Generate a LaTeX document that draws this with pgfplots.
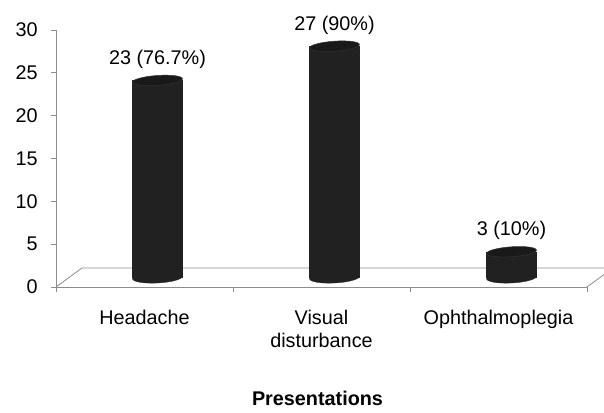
\documentclass[border=0pt]{standalone}
\usepackage{pgfplots}
\pgfplotsset{compat=1.18}
\usepackage{fontspec}
\setmainfont{Liberation Sans}
\definecolor{axgray}{RGB}{140,140,140}
\definecolor{cyl}{RGB}{33,33,33}
\newcommand{\bigf}{\fontsize{19.8pt}{23pt}\selectfont}
\begin{document}
\bigf
\begin{tikzpicture}
\useasboundingbox (-56pt,-125pt) rectangle (548pt,287pt);
\begin{axis}[
  scale only axis, width=531pt, height=257pt,
  xmin=-0.5, xmax=2.5, ymin=0, ymax=30,
  axis x line*=bottom, axis y line*=left,
  axis line style={axgray, line width=0.8pt, -},
  xtick={-0.5,0.5,1.5,2.5}, xticklabels={},
  extra x ticks={0,1,2},
  extra x tick labels={Headache,{Visual\\disturbance},Ophthalmoplegia},
  extra x tick style={major tick length=0pt, tick label style={align=center, yshift=-16pt}},
  ytick={0,5,...,30},
  tick align=outside, major tick length=5pt,
  tick style={axgray, line width=0.8pt},
  yticklabel style={xshift=-6.5pt},
  /pgf/number format/assume math mode=true,
  every tick label/.append style={font=\bigf, text=black},
  xlabel={\textbf{Presentations}},
  xlabel style={at={(axis description cs:0.5,0)}, anchor=base, xshift=-4pt, yshift=-118pt, font=\bigf},
  clip=false,
]
% floor
\draw[axgray, line width=0.8pt] (axis cs:-0.5,0) -- ++(26pt,19pt) -- ++(531pt,0pt) -- ++(-26pt,-19pt);
% cylinder bodies
\addplot[ybar, bar width=50pt, bar shift=0pt, draw=cyl, line width=0.3pt, fill=cyl, xshift=13pt, yshift=9.5pt]
  coordinates {(0,23) (1,27) (2,3)};
% bottom ellipses
\addplot[only marks, mark=*, mark size=25pt, mark options={rotate=3, yscale=0.22, fill=cyl, draw=cyl, line width=0.3pt}, xshift=13pt, yshift=9.5pt]
  coordinates {(0,0) (1,0) (2,0)};
% top ellipses
\addplot[only marks, mark=*, mark size=25pt, mark options={rotate=4, yscale=0.2, fill=black!90, draw=black!80, line width=0.5pt}, xshift=13pt, yshift=9.5pt]
  coordinates {(0,23) (1,27) (2,3)};
% value labels
\addplot[draw=none, mark=none, nodes near coords, point meta=explicit symbolic,
  every node near coord/.append style={anchor=base, xshift=13pt, yshift=25.5pt, font=\bigf, text=black}]
  coordinates {(0,23) [23 (76.7\%)] (1,27) [27 (90\%)] (2,3) [3 (10\%)]};
\end{axis}
\end{tikzpicture}
\end{document}
